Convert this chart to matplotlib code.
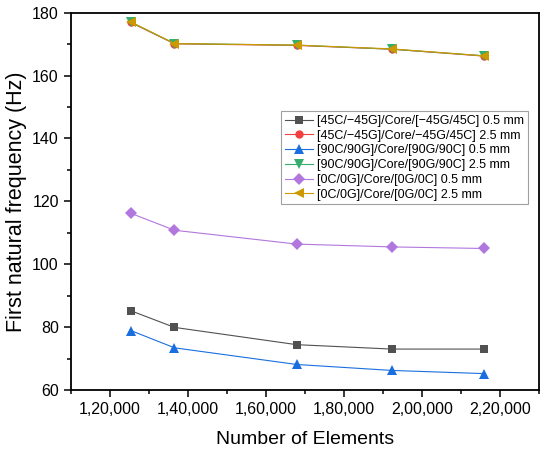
import numpy as np
import matplotlib.pyplot as plt
from matplotlib.ticker import MultipleLocator, FixedLocator

plt.rcParams['font.family'] = ['Liberation Sans', 'DejaVu Sans']

# data
elements = [125400, 136600, 167900, 192300, 215900]
f_45_05 = [85.2, 79.9, 74.4, 73.0, 73.0]
f_45_25 = [176.9, 170.1, 169.6, 168.4, 166.2]
f_90_05 = [78.9, 73.4, 68.1, 66.2, 65.2]
f_90_25 = [177.0, 170.2, 169.7, 168.4, 166.3]
f_0_05 = [116.2, 110.8, 106.4, 105.5, 105.0]
f_0_25 = [177.1, 170.2, 169.7, 168.5, 166.3]

labels = ['[45C/\u221245G]/Core/[\u221245G/45C] 0.5 mm',
          '[45C/\u221245G]/Core/\u221245G/45C] 2.5 mm',
          '[90C/90G]/Core/[90G/90C] 0.5 mm',
          '[90C/90G]/Core/[90G/90C] 2.5 mm',
          '[0C/0G]/Core/[0G/0C] 0.5 mm',
          '[0C/0G]/Core/[0G/0C] 2.5 mm']
xticks = [120000, 140000, 160000, 180000, 200000, 220000]
xtick_labels = ['1,20,000', '1,40,000', '1,60,000', '1,80,000', '2,00,000', '2,20,000']

series = [f_45_05, f_45_25, f_90_05, f_90_25, f_0_05, f_0_25]
colors = ['#515151', '#F14040', '#1A6FDF', '#37AD6B', '#B177DE', '#CC9900']
markers = ['s', 'o', '^', 'v', 'D', '<']
sizes = [5.2, 6, 6.8, 6.8, 6.2, 7]

fig = plt.figure(figsize=(5.5, 4.55), dpi=100)
ax = fig.add_axes([0.1285, 0.143, 0.8515, 0.829])

for ys, c, m, s, lab in zip(series, colors, markers, sizes, labels):
    ax.plot(elements, ys, color=c, marker=m, ms=s, lw=0.8, mew=0, label=lab)

ax.set_xlim(110000, 230000)
ax.set_ylim(60, 180)
ax.xaxis.set_major_locator(FixedLocator(xticks))
ax.set_xticklabels(xtick_labels)
ax.xaxis.set_minor_locator(MultipleLocator(10000))
ax.yaxis.set_major_locator(MultipleLocator(20))
ax.yaxis.set_minor_locator(MultipleLocator(10))
ax.tick_params(which='major', direction='out', length=5, width=1.1, labelsize=11.5)
ax.tick_params(which='minor', direction='out', length=3, width=1.1)
for sp in ax.spines.values():
    sp.set_linewidth(1.3)

ax.set_xlabel('Number of Elements', fontsize=14, labelpad=10)
ax.set_ylabel('First natural frequency (Hz)', fontsize=15.5, labelpad=4)

leg = ax.legend(loc='upper right', bbox_to_anchor=(0.9765, 0.739), fontsize=9,
                frameon=True, fancybox=False, edgecolor='#888888',
                handlelength=2.3, handletextpad=0.3, borderpad=0.3,
                labelspacing=0.22, borderaxespad=0)
leg.get_frame().set_linewidth(0.8)

fig.savefig('out.png', dpi=100)
